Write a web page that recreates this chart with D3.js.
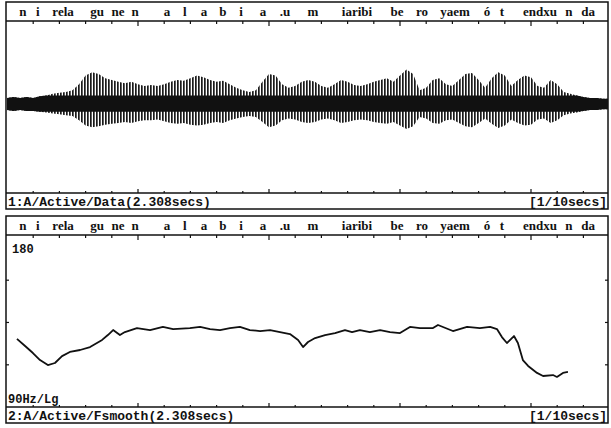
<!DOCTYPE html>
<html lang="en">
<head>
<meta charset="utf-8">
<title>Waveform and pitch</title>
<script type="text/javascript" src="https://cdn.jsdelivr.net/npm/d3@7"></script>
<style>
body { margin: 0; background: #fff; }
text { font-family: "Liberation Mono", "DejaVu Sans Mono", monospace; font-weight: bold; fill: #111; }
text.seg { font-family: "Liberation Serif", "DejaVu Serif", serif; }
</style>
</head>
<body>
<script type="text/javascript">

//DATA
var duration = 2.308;          // secs
var waveStep = 0.025;          // secs between envelope samples
// upper / lower envelope of the waveform, % of full scale
var waveUpper = [7,8,7,8,7,9,10,12,13,14, 16,23,33,37,35,30,28,26,24,26,
  23,21,22,21,23,26,28,27,30,33, 31,28,26,27,23,19,16,14,16,26,
  35,33,23,19,21,26,28,26,21,19, 23,28,26,22,21,23,26,28,30,26,
  33,40,35,16,19,28,30,23,21,28, 35,36,28,19,30,37,33,21,28,33,
  31,21,19,28,23,14,12,10,8,7, 7,6,6];
var waveLower = [7,8,7,8,8,9,10,11,12,13, 14,19,25,27,26,24,23,22,21,22,
  20,19,19,18,20,22,23,22,24,25, 24,22,21,22,19,17,15,14,15,21,
  27,25,19,17,18,21,22,21,18,17, 19,22,21,19,18,19,21,22,23,21,
  25,29,26,15,17,22,23,19,18,22, 26,27,22,17,23,28,25,18,22,25,
  24,18,17,22,19,13,11,10,8,7, 7,6,6];

// smoothed pitch contour
var pitchTime = [0.038,0.069,0.099,0.126,0.156,0.183,0.210,0.240,0.279,0.317,
  0.363,0.385,0.405,0.431,0.450,0.496,0.546,0.595,0.634,0.698,
  0.737,0.775,0.813,0.851,0.889,0.927,0.966,1.004,1.042,1.080,
  1.111,1.130,1.149,1.176,1.214,1.252,1.290,1.317,1.347,1.385,
  1.424,1.462,1.500,1.538,1.576,1.626,1.645,1.702,1.756,1.805,
  1.844,1.870,1.889,1.908,1.935,1.950,1.969,1.989,2.023,2.046,
  2.084,2.099,2.122,2.141];
var pitchHz = [119.0,115.6,112.3,109.1,106.9,107.8,110.9,112.8,113.7,115.1,
  118.5,120.9,123.4,120.9,122.4,124.4,123.4,125.0,123.9,124.4,
  125.0,123.9,123.4,124.4,125.0,123.4,122.9,123.4,122.4,121.4,
  118.5,115.1,117.5,119.4,120.9,121.9,123.4,122.4,123.4,122.4,
  123.4,122.4,121.9,125.0,124.4,124.4,126.0,122.9,125.0,124.4,
  125.0,123.9,119.9,117.0,120.4,117.0,109.1,106.5,103.5,102.2,
  102.6,101.8,103.5,103.9];
var pitchMin = 90, pitchMax = 180;
var pitchTicks = [151.4, 127.3, 107.0];

// segment labels and where they sit (secs)
var segText = ["n","i","rela","gu","ne","n","a","l","a","b","i","a",".u",
  "m","iaribi","be","ro","yaem","ó","t","endxu","n","da"];
var segTime = [0.061,0.118,0.214,0.344,0.424,0.489,0.611,0.679,0.752,0.824,0.893,0.977,1.061,
  1.168,1.336,1.489,1.584,1.710,1.832,1.889,2.034,2.145,2.218];

var caption1 = "1:A/Active/Data(2.308secs)";
var caption2 = "2:A/Active/Fsmooth(2.308secs)";
var unitText = "[1/10secs]";

//LAYOUT
var w = 611, h = 428;
var left = 6, right = 608;

var svg = d3.select("body").append("svg")
  .attr("width", w)
  .attr("height", h);

svg.append("defs").append("pattern")
  .attr("id", "stripes")
  .attr("width", 3).attr("height", 4)
  .attr("patternUnits", "userSpaceOnUse")
  .append("rect")
  .attr("width", 1.7).attr("height", 4)
  .attr("fill", "#1a1a1a");

svg.select("defs").append("clipPath").attr("id", "clip")
  .append("rect").attr("x", left).attr("y", 0).attr("width", right - left).attr("height", h);

var x = d3.scaleLinear().domain([0, duration]).range([7, 7 + duration * 262]);
var tickVals = d3.range(1, 24).map(function(d) { return d / 10; });

// one framed panel: label row, plot area, caption row
function panel(top, caption) {
  var g = svg.append("g");
  var lineTop = top + 19, axisY = top + 191, bottom = top + 207;

  g.append("rect")
    .attr("x", left).attr("y", top)
    .attr("width", right - left).attr("height", bottom - top)
    .attr("fill", "none").attr("stroke", "#111").attr("stroke-width", 1.5);
  g.append("line").attr("x1", left).attr("x2", right).attr("y1", lineTop).attr("y2", lineTop)
    .attr("stroke", "#111").attr("stroke-width", 1.3);
  g.append("line").attr("x1", left).attr("x2", right).attr("y1", axisY).attr("y2", axisY)
    .attr("stroke", "#111").attr("stroke-width", 1.3);

  // tick marks, down from the label row and up from the caption row
  g.append("g").attr("clip-path", "url(#clip)").selectAll("line.t")
    .data(tickVals).enter().append("line")
    .attr("x1", function(d) { return x(d); })
    .attr("x2", function(d) { return x(d); })
    .attr("y1", lineTop)
    .attr("y2", function(d) { return lineTop + (Math.round(d * 10) % 5 == 0 ? 5 : 3); })
    .attr("stroke", "#111").attr("stroke-width", 1.2);
  g.append("g").attr("clip-path", "url(#clip)").selectAll("line.b")
    .data(tickVals).enter().append("line")
    .attr("x1", function(d) { return x(d); })
    .attr("x2", function(d) { return x(d); })
    .attr("y1", axisY)
    .attr("y2", function(d) { return axisY - (Math.round(d * 10) % 5 == 0 ? 4 : 2); })
    .attr("stroke", "#111").attr("stroke-width", 1.2);

  g.selectAll("text.seg")
    .data(segText).enter().append("text")
    .attr("class", "seg")
    .text(function(d) { return d; })
    .attr("x", function(d, i) { return x(segTime[i]); })
    .attr("y", top + 14)
    .attr("text-anchor", "middle")
    .attr("font-size", "13px");

  g.append("text").text(caption)
    .attr("x", 8).attr("y", bottom - 3)
    .attr("font-size", "13px");
  g.append("text").text(unitText)
    .attr("x", right - 1).attr("y", bottom - 3)
    .attr("text-anchor", "end")
    .attr("font-size", "13px");

  return { lineTop: lineTop, axisY: axisY };
}

//TOP PANEL - waveform
var p1 = panel(2, caption1);
var yWave = d3.scaleLinear().domain([-100, 100]).range([190, 18]);

var wave = waveUpper.map(function(d, i) {
  return { t: i * waveStep, up: d, lo: waveLower[i] };
});

var waveG = svg.append("g").attr("clip-path", "url(#clip)");
waveG.append("path")
  .datum(wave)
  .attr("fill", "url(#stripes)")
  .attr("d", d3.area()
    .x(function(d) { return x(d.t); })
    .y0(function(d) { return yWave(-d.lo); })
    .y1(function(d) { return yWave(d.up); }));
waveG.append("path")
  .datum(wave)
  .attr("fill", "#111")
  .attr("d", d3.area()
    .x(function(d) { return x(d.t); })
    .y0(function(d) { return yWave(-Math.min(d.lo, 9)); })
    .y1(function(d) { return yWave(Math.min(d.up, 10)); }));

//BOTTOM PANEL - pitch
var p2 = panel(216, caption2);
var yPitch = d3.scaleLog().domain([pitchMin, pitchMax]).range([p2.axisY, 238]);

svg.selectAll("line.yl")
  .data(pitchTicks).enter().append("line")
  .attr("x1", left).attr("x2", left + 3)
  .attr("y1", function(d) { return yPitch(d); })
  .attr("y2", function(d) { return yPitch(d); })
  .attr("stroke", "#111").attr("stroke-width", 1.2);
svg.selectAll("line.yr")
  .data(pitchTicks).enter().append("line")
  .attr("x1", right - 3).attr("x2", right)
  .attr("y1", function(d) { return yPitch(d); })
  .attr("y2", function(d) { return yPitch(d); })
  .attr("stroke", "#111").attr("stroke-width", 1.2);

svg.append("text").text(pitchMax)
  .attr("x", 12).attr("y", 253)
  .attr("font-size", "12px");
svg.append("text").text(pitchMin + "Hz/Lg")
  .attr("x", 8).attr("y", p2.axisY - 4)
  .attr("font-size", "12px");

svg.append("path")
  .datum(pitchTime.map(function(d, i) { return [d, pitchHz[i]]; }))
  .attr("fill", "none")
  .attr("stroke", "#111")
  .attr("stroke-width", 1.8)
  .attr("stroke-linejoin", "round")
  .attr("d", d3.line()
    .x(function(d) { return x(d[0]); })
    .y(function(d) { return yPitch(d[1]); }));

</script>
</body>
</html>
